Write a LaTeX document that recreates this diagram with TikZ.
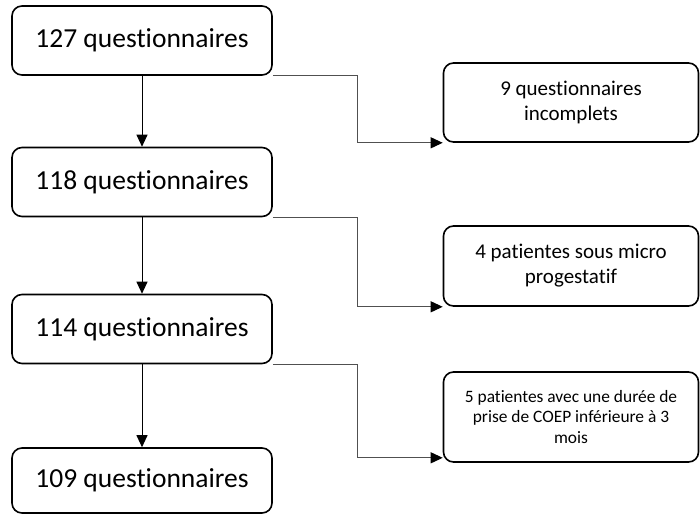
\documentclass[tikz,border=0pt]{standalone}
\usepackage{fontspec}
\setmainfont{Carlito}[Ligatures=NoCommon]
\usepackage{color}
\definecolor{mygrey}{RGB}{80,80,80}
\usepackage{tikz}
\usetikzlibrary{calc,arrows.meta,positioning}
\tikzstyle{mainbox}=[draw,line width=1.6pt,rounded corners=10pt,minimum width=260pt,minimum height=69pt,inner sep=0pt,align=center,font=\fontsize{27.5}{32}\selectfont]
\tikzstyle{sidebox}=[draw,line width=1.6pt,rounded corners=10pt,minimum width=255pt,inner sep=0pt,align=center,font=\fontsize{21}{25}\selectfont]
\tikzstyle{down}=[line width=1pt,-{Triangle[length=12pt,width=11pt]}]
\tikzstyle{elbow}=[line width=1.1pt,mygrey,-{Triangle[length=12pt,width=11pt,black]}]

\begin{document}
\begin{tikzpicture}[x=1pt,y=-1pt]
\useasboundingbox (0,0) rectangle (700,514);
\draw (142, 40.5) node [mainbox] (q127) {127 questionnaires};
\draw (142, 182) node [mainbox] (q118) {118 questionnaires};
\draw (142, 329) node [mainbox] (q114) {114 questionnaires};
\draw (142, 480.5) node [mainbox, minimum height=65pt] (q109) {109 questionnaires};
\draw (571, 102.5) node [sidebox, minimum height=79pt] (incomplets) {9 questionnaires\\incomplets};
\draw (571, 266) node [sidebox, minimum height=80pt] (micro) {4 patientes sous micro\\progestatif};
\draw (571, 417) node [sidebox, minimum height=90pt, font=\fontsize{17.4}{20.5}\selectfont] (coep) {5 patientes avec une durée de\\prise de COEP inférieure à 3\\mois};
\draw[down] (q127) -- (q118);
\draw[down] (q118) -- (q114);
\draw[down] (q114) -- (q109);
\draw[elbow] (q127.south east) -| ($(q127.south east)!0.5!(incomplets.south west)$) |- (incomplets.south west);
\draw[elbow] (q118.south east) -| ($(q118.south east)!0.5!(micro.south west)$) |- (micro.south west);
\draw[elbow] (q114.south east) -| ($(q114.south east)!0.5!([yshift=5pt]coep.south west)$) |- ([yshift=5pt]coep.south west);
\end{tikzpicture}
\end{document}
